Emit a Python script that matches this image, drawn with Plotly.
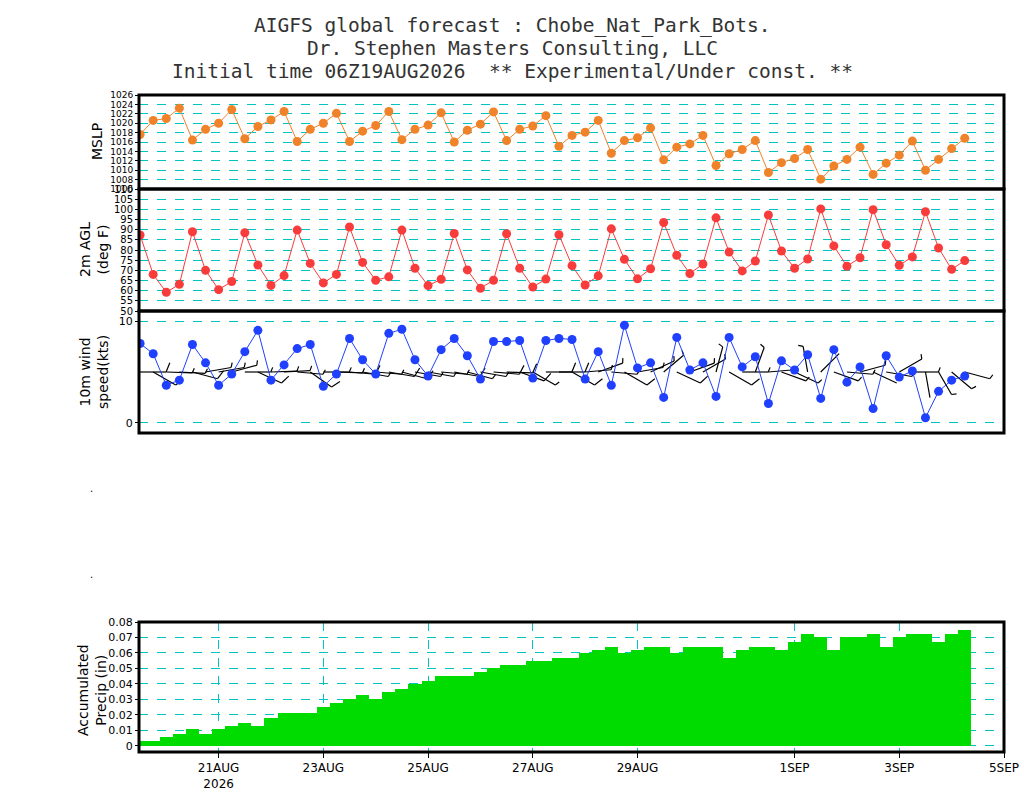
import numpy as np
import pandas as pd
import plotly.graph_objects as go

# 6-hourly forecast times (first valid time 12Z 19AUG2026)
times = pd.date_range("2026-08-19 12:00", periods=64, freq="6h")

mslp = [1017.6, 1020.6, 1021.0, 1023.2, 1016.4, 1018.7, 1020.0, 1022.9,
        1016.7, 1019.3, 1020.7, 1022.5, 1016.1, 1018.7, 1020.0, 1022.1,
        1016.1, 1018.3, 1019.5, 1022.5, 1016.5, 1018.7, 1019.6, 1022.2,
        1016.0, 1018.5, 1019.8, 1022.4, 1016.3, 1018.7, 1019.4, 1021.6,
        1015.1, 1017.4, 1018.1, 1020.6, 1013.6, 1016.3, 1016.9, 1019.0,
        1012.2, 1014.9, 1015.6, 1017.4, 1011.0, 1013.5, 1014.4, 1016.3,
        1009.5, 1011.6, 1012.5, 1014.4, 1008.1, 1010.9, 1012.3, 1014.9,
        1009.1, 1011.5, 1013.2, 1016.2, 1010.0, 1012.3, 1014.6, 1016.8]

temp_f = [87.4, 68.0, 59.2, 63.1, 89.0, 70.0, 60.5, 64.5,
          88.5, 72.6, 62.6, 67.4, 89.8, 73.4, 63.8, 68.0,
          91.3, 73.9, 65.1, 66.8, 89.8, 71.0, 62.5, 65.6,
          88.1, 70.2, 61.2, 65.1, 88.0, 71.0, 61.8, 65.7,
          87.5, 72.3, 62.8, 67.3, 90.4, 75.4, 65.8, 70.8,
          93.5, 77.4, 68.4, 73.1, 95.8, 79.0, 69.7, 74.6,
          97.2, 79.5, 71.0, 75.6, 100.2, 82.0, 72.0, 76.2,
          99.8, 82.6, 72.5, 76.6, 98.8, 81.0, 70.5, 74.8]

wind_kts = [7.8, 6.8, 3.7, 4.2, 7.7, 5.9, 3.7, 4.8,
            7.0, 9.1, 4.2, 5.7, 7.3, 7.7, 3.6, 4.8,
            8.3, 6.2, 4.8, 8.8, 9.2, 6.2, 4.6, 7.2,
            8.3, 6.6, 4.3, 8.0, 8.0, 8.1, 4.4, 8.1,
            8.3, 8.2, 4.3, 7.0, 3.7, 9.6, 5.4, 5.9,
            2.5, 8.4, 5.2, 5.9, 2.6, 8.4, 5.5, 6.5,
            1.9, 6.1, 5.2, 6.7, 2.4, 7.2, 4.0, 5.5,
            1.4, 6.6, 4.5, 5.1, 0.5, 3.1, 4.2, 4.6]

wind_dir = [90, 120, 92, 93, 105, 80, 80, 75,
            90, 115, 88, 87, 95, 125, 90, 92,
            95, 100, 95, 100, 105, 100, 100, 95,
            100, 105, 100, 95, 92, 110, 120, 90,
            90, 120, 85, 70, 95, 120, 80, 65,
            50, 115, 70, 60, 15, 120, 90, 20,
            85, 110, 115, 350, 45, 110, 95, 75,
            115, 100, 60, 90, 170, 150, 130, 105]

precip_in = [0.003, 0.003, 0.006, 0.008, 0.011, 0.008, 0.011, 0.013,
             0.015, 0.013, 0.018, 0.021, 0.021, 0.021, 0.025, 0.028,
             0.030, 0.033, 0.030, 0.035, 0.037, 0.040, 0.042, 0.045,
             0.045, 0.045, 0.048, 0.050, 0.052, 0.052, 0.055, 0.055,
             0.057, 0.057, 0.060, 0.062, 0.064, 0.060, 0.062, 0.064,
             0.064, 0.060, 0.064, 0.064, 0.064, 0.057, 0.062, 0.064,
             0.064, 0.062, 0.067, 0.072, 0.070, 0.062, 0.070, 0.070,
             0.072, 0.064, 0.070, 0.072, 0.072, 0.067, 0.072, 0.075]

date_ticks = ["2026-08-21", "2026-08-23", "2026-08-25", "2026-08-27",
              "2026-08-29", "2026-09-01", "2026-09-03", "2026-09-05"]
date_labels = ["21AUG<br>2026", "23AUG", "25AUG", "27AUG",
               "29AUG", "1SEP", "3SEP", "5SEP"]

W, H = 1024, 800

def fx(x):
    return x / W

def fy(y):
    return 1 - y / H

x_start = pd.Timestamp("2026-08-19 11:30")
x_end = pd.Timestamp("2026-09-05 00:00")

xdom = [fx(139), fx(1004)]
dom_mslp = [fy(189), fy(95)]
dom_temp = [fy(311), fy(189)]
dom_wind = [fy(433), fy(311)]
dom_prcp = [fy(752), fy(622)]

wind_range = [-1, 11]

# wind barbs, drawn from the direction/speed arrays in data units
hours_per_px = (x_end - x_start) / pd.Timedelta(hours=1) / (1004 - 139)
kts_per_px = (wind_range[1] - wind_range[0]) / (433 - 311)

def barbs(times, dirs, spds, anchor=5.0, staff=26, flen=10, rot=68):
    bx, by = [], []
    a = np.deg2rad(rot)
    for t, d, s in zip(times, dirs, spds):
        th = np.deg2rad(d)
        ux, uy = np.sin(th), np.cos(th)
        vx = ux * np.cos(a) - uy * np.sin(a)
        vy = ux * np.sin(a) + uy * np.cos(a)

        def pt(px, py):
            return (t + pd.Timedelta(hours=px * hours_per_px), anchor + py * kts_per_px)

        p0, p1 = pt(0, 0), pt(staff * ux, staff * uy)
        bx += [p0[0], p1[0], None]
        by += [p0[1], p1[1], None]
        n_full = int((s + 2.5) // 10)
        half = ((s + 2.5) % 10) >= 5
        pos = staff
        for _ in range(n_full):
            q0 = pt(pos * ux, pos * uy)
            q1 = pt(pos * ux + flen * vx, pos * uy + flen * vy)
            bx += [q0[0], q1[0], None]
            by += [q0[1], q1[1], None]
            pos -= 4
        if half:
            q0 = pt(pos * ux, pos * uy)
            q1 = pt(pos * ux + flen / 2 * vx, pos * uy + flen / 2 * vy)
            bx += [q0[0], q1[0], None]
            by += [q0[1], q1[1], None]
    return bx, by

barb_x, barb_y = barbs(times, wind_dir, wind_kts)

fig = go.Figure()

fig.add_trace(go.Scatter(x=times, y=mslp, mode="lines+markers",
                         line=dict(color="#f0822a", width=1),
                         marker=dict(color="#f0822a", size=9),
                         xaxis="x", yaxis="y"))
fig.add_trace(go.Scatter(x=times, y=temp_f, mode="lines+markers",
                         line=dict(color="#f83c3c", width=1),
                         marker=dict(color="#f83c3c", size=9),
                         xaxis="x2", yaxis="y2"))
fig.add_trace(go.Scatter(x=barb_x, y=barb_y, mode="lines",
                         line=dict(color="black", width=1.2),
                         xaxis="x3", yaxis="y3"))
fig.add_trace(go.Scatter(x=times, y=wind_kts, mode="lines+markers",
                         line=dict(color="#2040ff", width=1),
                         marker=dict(color="#2040ff", size=9),
                         xaxis="x3", yaxis="y3"))
fig.add_trace(go.Bar(x=times, y=precip_in, width=6 * 3600 * 1000,
                     marker=dict(color="#00dc00", line=dict(width=0)),
                     xaxis="x4", yaxis="y4"))

grid = "#00c4c4"

xcommon = dict(domain=xdom, range=[x_start, x_end], type="date",
               showline=False, zeroline=False, automargin=False)
for name, anchor in [("xaxis", "y"), ("xaxis2", "y2"), ("xaxis3", "y3")]:
    fig.layout[name] = dict(xcommon, anchor=anchor, showticklabels=False,
                            showgrid=False, ticks="")

fig.layout["xaxis4"] = dict(xcommon, anchor="y4", showgrid=True,
                            gridcolor=grid, griddash="dash", gridwidth=1,
                            tickvals=date_ticks, ticktext=date_labels,
                            ticks="outside", ticklen=5, tickwidth=1,
                            tickcolor="black", ticklabeloverflow="allow",
                            tickfont=dict(family="DejaVu Sans", size=12, color="black"))

ycommon = dict(showline=False, zeroline=False, showgrid=True, gridcolor=grid,
               griddash="dash", gridwidth=1, ticks="outside", ticklen=3,
               tickcolor="black", automargin=False,
               tickfont=dict(family="DejaVu Sans", size=11, color="black"))

fig.layout["yaxis"] = dict(ycommon, domain=dom_mslp, anchor="x", range=[1006, 1026],
                           tickvals=list(range(1006, 1027, 2)),
                           tickfont=dict(family="DejaVu Sans", size=9, color="black"))
fig.layout["yaxis2"] = dict(ycommon, domain=dom_temp, anchor="x2", range=[50, 110],
                            tickvals=list(range(50, 111, 5)),
                            tickfont=dict(family="DejaVu Sans", size=10, color="black"))
fig.layout["yaxis3"] = dict(ycommon, domain=dom_wind, anchor="x3", range=wind_range,
                            tickvals=[0, 10])
fig.layout["yaxis4"] = dict(ycommon, domain=dom_prcp, anchor="x4", range=[-0.0039, 0.08],
                            tickvals=[0, 0.01, 0.02, 0.03, 0.04, 0.05, 0.06, 0.07, 0.08],
                            ticktext=["0", "0.01", "0.02", "0.03", "0.04", "0.05",
                                      "0.06", "0.07", "0.08"])

# panel frames (single shared borders)
shapes = []
for xa, ya in [("x", "y"), ("x2", "y2"), ("x3", "y3"), ("x4", "y4")]:
    shapes.append(dict(type="rect", xref=f"{xa} domain", yref=f"{ya} domain",
                       x0=0, x1=1, y0=0, y1=1, layer="above",
                       line=dict(color="black", width=3)))

title_lines = ["AIGFS global forecast : Chobe_Nat_Park_Bots.",
               "Dr. Stephen Masters Consulting, LLC",
               "Initial time 06Z19AUG2026  ** Experimental/Under const. **"]
ann = []
for txt, ypx in zip(title_lines, [25, 48.5, 72]):
    ann.append(dict(text=txt, x=fx(512), y=fy(ypx), xref="paper", yref="paper",
                    showarrow=False, xanchor="center", yanchor="middle",
                    borderpad=0,
                    font=dict(family="DejaVu Sans Mono", size=19.5, color="#333333")))

ytitles = [("MSLP", 97, 142), ("2m AGL<br>(deg F)", 94, 250),
           ("10m wind<br>speed(kts)", 94, 372), ("Accumulated<br>Precip (in)", 92, 690)]
for txt, xpx, ypx in ytitles:
    ann.append(dict(text=txt, x=fx(xpx), y=fy(ypx), xref="paper", yref="paper",
                    showarrow=False, textangle=-90, xanchor="center", yanchor="middle",
                    font=dict(family="DejaVu Sans", size=14, color="black")))

for ypx in [489, 582]:
    ann.append(dict(text=".", x=fx(88), y=fy(ypx), xref="paper", yref="paper",
                    showarrow=False, font=dict(family="DejaVu Sans", size=10, color="black")))

fig.update_layout(width=W, height=H, margin=dict(l=0, r=0, t=0, b=0, autoexpand=False),
                  paper_bgcolor="white", plot_bgcolor="white",
                  showlegend=False, bargap=0, annotations=ann, shapes=shapes)

fig.write_html("out.html", config={"displayModeBar": False},
               post_script="document.body.style.margin='0px';"
                           "document.documentElement.style.overflow='hidden';")
